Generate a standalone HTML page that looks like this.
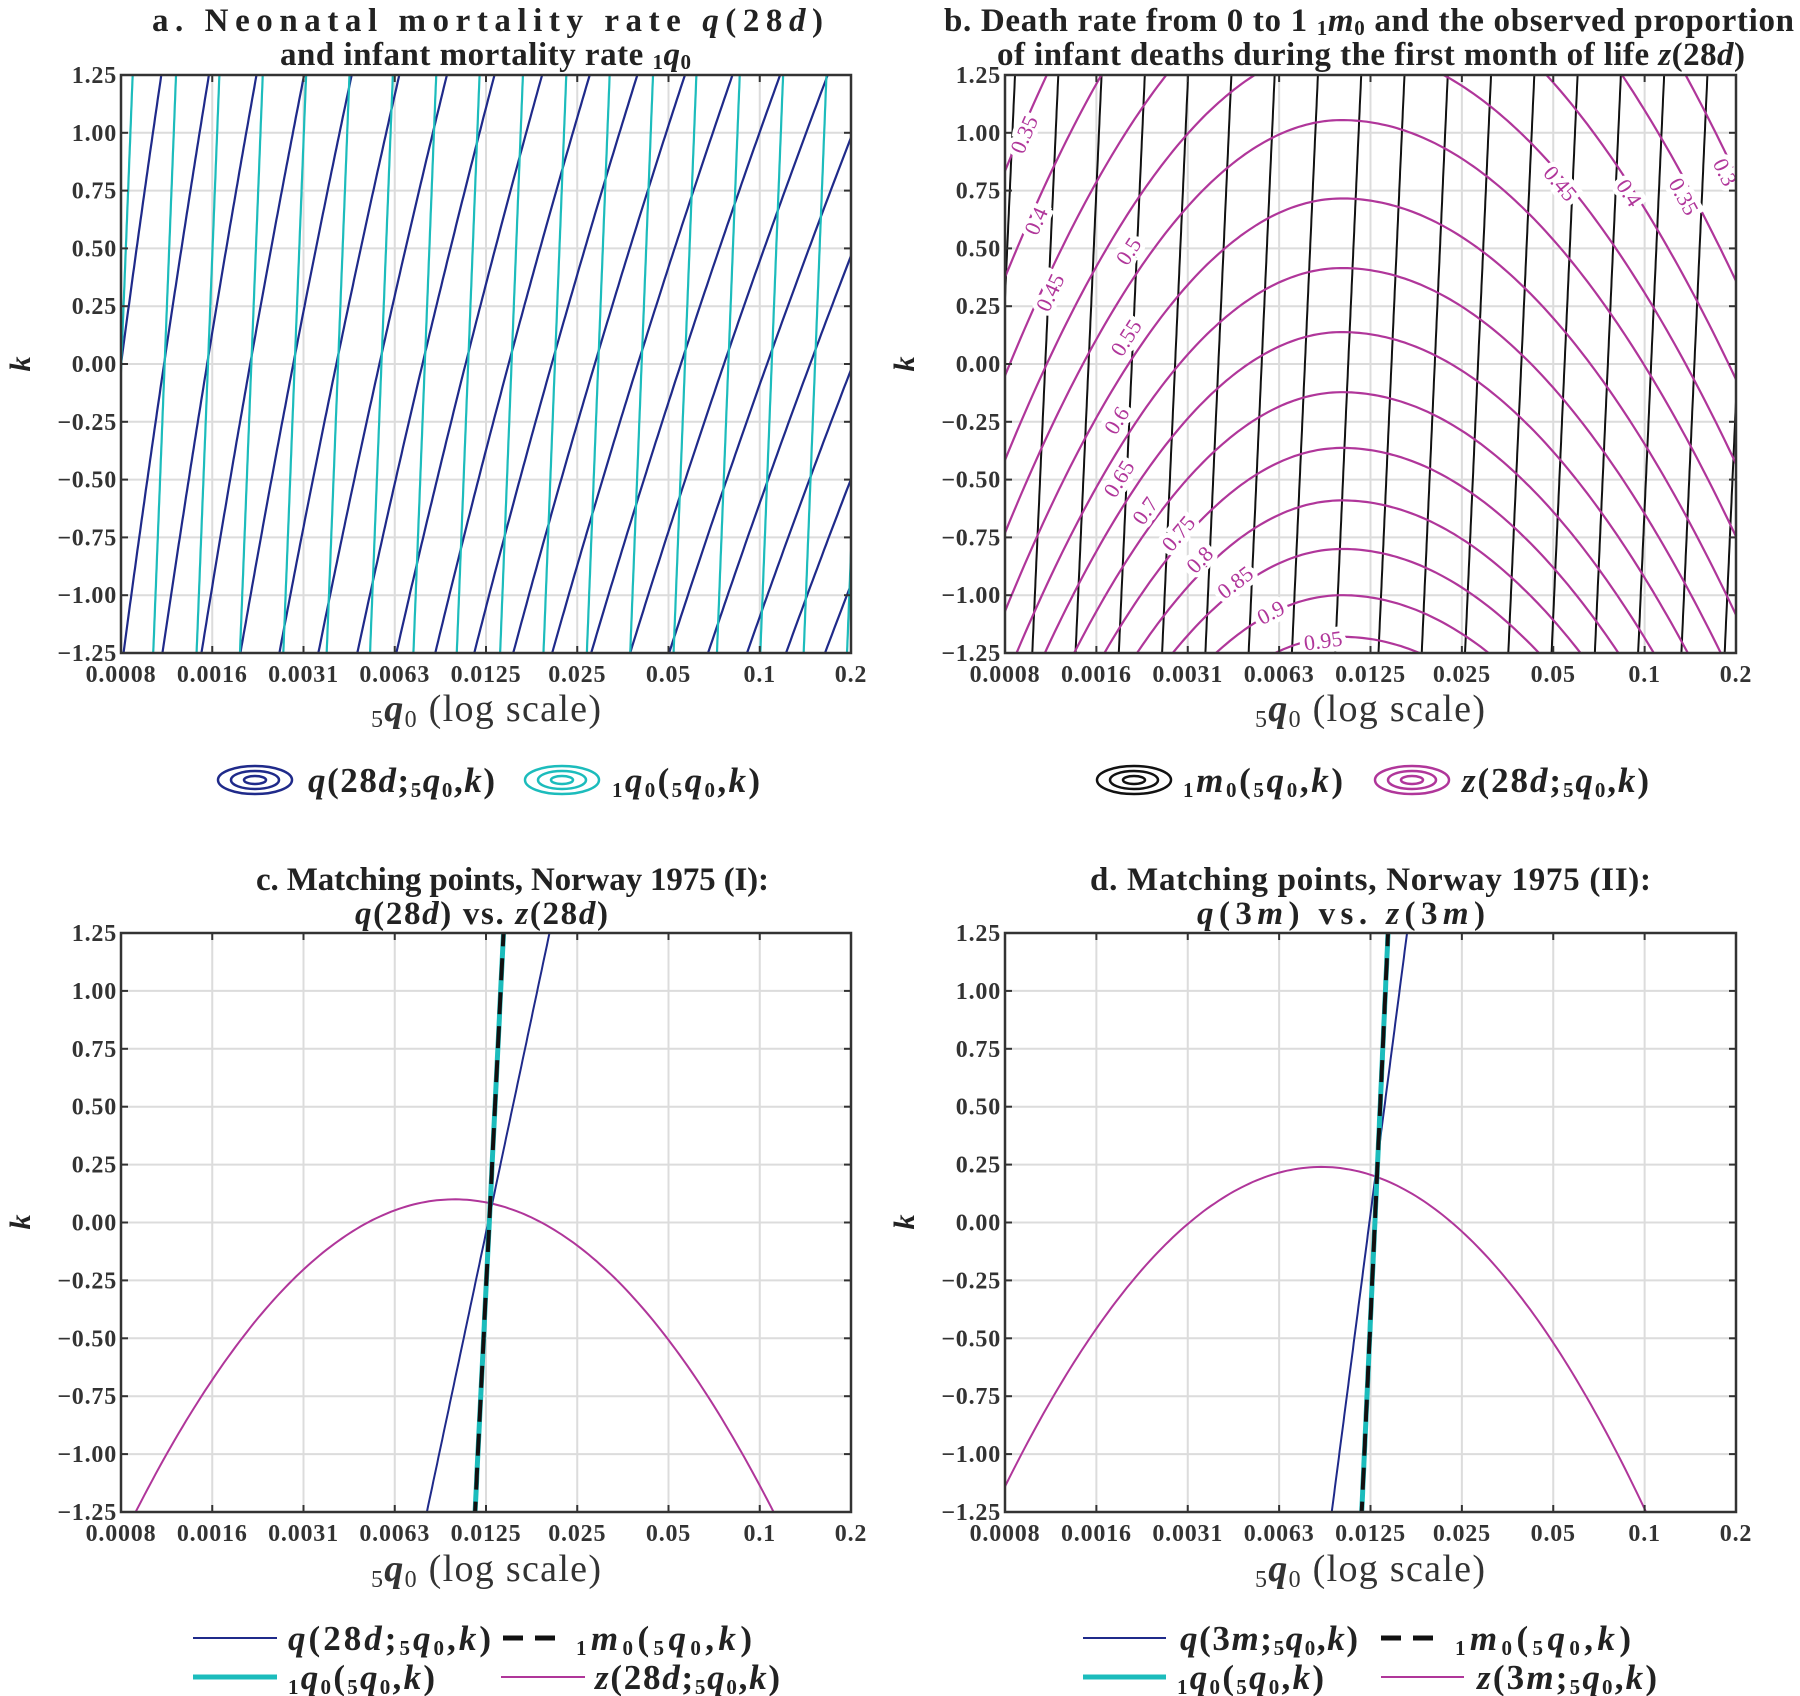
<!DOCTYPE html>
<html><head><meta charset="utf-8"><style>
html,body{margin:0;padding:0;background:#fff;}
svg{display:block;font-family:"Liberation Serif","DejaVu Serif",serif;}
</style></head><body>
<svg id="s" width="1800" height="1696" viewBox="0 0 1800 1696" xmlns="http://www.w3.org/2000/svg">
<defs>
<clipPath id="ca"><rect x="121" y="75" width="730" height="578"/></clipPath>
<clipPath id="cb"><rect x="1005" y="75" width="731" height="578"/></clipPath>
<clipPath id="cc"><rect x="121" y="933" width="730" height="579"/></clipPath>
<clipPath id="cd"><rect x="1005" y="933" width="731" height="579"/></clipPath>
</defs>
<g id="root"></g>
<g font-weight="bold" fill="#222" font-size="33">
<text x="152" y="31" textLength="671" lengthAdjust="spacing">a.  Neonatal mortality rate <tspan font-style="italic">q</tspan>(28<tspan font-style="italic">d</tspan>)</text>
<text x="280" y="65" textLength="411" lengthAdjust="spacing">and infant mortality rate <tspan font-size="21" dy="4">1</tspan><tspan font-style="italic" dy="-4">q</tspan><tspan font-size="21" dy="4">0</tspan></text>
<text x="944" y="31" textLength="850" lengthAdjust="spacing">b.  Death rate from 0 to 1 <tspan font-size="21" dy="4">1</tspan><tspan font-style="italic" dy="-4">m</tspan><tspan font-size="21" dy="4">0</tspan><tspan dy="-4"> and the observed proportion</tspan></text>
<text x="997" y="65" textLength="748" lengthAdjust="spacing">of infant deaths during the first month of life <tspan font-style="italic">z</tspan>(28<tspan font-style="italic">d</tspan>)</text>
<text x="256" y="890" textLength="513" lengthAdjust="spacing">c.  Matching points, Norway 1975 (I):</text>
<text x="355" y="924" textLength="253" lengthAdjust="spacing"><tspan font-style="italic">q</tspan>(28<tspan font-style="italic">d</tspan>) vs. <tspan font-style="italic">z</tspan>(28<tspan font-style="italic">d</tspan>)</text>
<text x="1090" y="890" textLength="561" lengthAdjust="spacing">d.  Matching points, Norway 1975 (II):</text>
<text x="1197" y="924" textLength="288" lengthAdjust="spacing"><tspan font-style="italic">q</tspan>(3<tspan font-style="italic">m</tspan>) vs. <tspan font-style="italic">z</tspan>(3<tspan font-style="italic">m</tspan>)</text>
</g>
<g font-weight="normal" fill="#333" font-size="38">
<text x="371" y="721" textLength="230" lengthAdjust="spacing"><tspan font-size="24" dy="6">5</tspan><tspan font-style="italic" font-weight="bold" dy="-6">q</tspan><tspan font-size="24" dy="6">0</tspan><tspan dy="-6">  (log scale)</tspan></text>
<text x="1255" y="721" textLength="230" lengthAdjust="spacing"><tspan font-size="24" dy="6">5</tspan><tspan font-style="italic" font-weight="bold" dy="-6">q</tspan><tspan font-size="24" dy="6">0</tspan><tspan dy="-6">  (log scale)</tspan></text>
<text x="371" y="1581" textLength="230" lengthAdjust="spacing"><tspan font-size="24" dy="6">5</tspan><tspan font-style="italic" font-weight="bold" dy="-6">q</tspan><tspan font-size="24" dy="6">0</tspan><tspan dy="-6">  (log scale)</tspan></text>
<text x="1255" y="1581" textLength="230" lengthAdjust="spacing"><tspan font-size="24" dy="6">5</tspan><tspan font-style="italic" font-weight="bold" dy="-6">q</tspan><tspan font-size="24" dy="6">0</tspan><tspan dy="-6">  (log scale)</tspan></text>
</g>
<g font-style="italic" font-weight="bold" font-size="30" fill="#222" text-anchor="middle">
<text transform="translate(30,364) rotate(-90)">k</text>
<text transform="translate(914,364) rotate(-90)">k</text>
<text transform="translate(30,1222) rotate(-90)">k</text>
<text transform="translate(914,1222) rotate(-90)">k</text>
</g>
<g fill="none" stroke-width="2.5">
<g stroke="#1f2a8a"><ellipse cx="255" cy="780" rx="37" ry="14"/><ellipse cx="255" cy="780" rx="24" ry="9"/><ellipse cx="255" cy="780" rx="11" ry="4"/></g>
<g stroke="#1cbcbc"><ellipse cx="562" cy="780" rx="37" ry="14"/><ellipse cx="562" cy="780" rx="24" ry="9"/><ellipse cx="562" cy="780" rx="11" ry="4"/></g>
<g stroke="#111"><ellipse cx="1134" cy="780" rx="37" ry="14"/><ellipse cx="1134" cy="780" rx="24" ry="9"/><ellipse cx="1134" cy="780" rx="11" ry="4"/></g>
<g stroke="#b0369a"><ellipse cx="1412" cy="780" rx="37" ry="14"/><ellipse cx="1412" cy="780" rx="24" ry="9"/><ellipse cx="1412" cy="780" rx="11" ry="4"/></g>
</g>
<g>
<line x1="193" y1="1638" x2="277" y2="1638" stroke="#1f2a8a" stroke-width="2"/>
<line x1="503" y1="1638" x2="564" y2="1638" stroke="#111" stroke-width="5" stroke-dasharray="20,12"/>
<line x1="193" y1="1677" x2="277" y2="1677" stroke="#1cbcbc" stroke-width="5"/>
<line x1="501" y1="1677" x2="585" y2="1677" stroke="#b0369a" stroke-width="2"/>
<line x1="1083" y1="1638" x2="1166" y2="1638" stroke="#1f2a8a" stroke-width="2"/>
<line x1="1381" y1="1638" x2="1441" y2="1638" stroke="#111" stroke-width="5" stroke-dasharray="20,12"/>
<line x1="1083" y1="1677" x2="1166" y2="1677" stroke="#1cbcbc" stroke-width="5"/>
<line x1="1381" y1="1677" x2="1464" y2="1677" stroke="#b0369a" stroke-width="2"/>
</g>
<g font-size="35" font-weight="bold" fill="#222">
<text x="308" y="792" textLength="187" lengthAdjust="spacing"><tspan font-style="italic">q</tspan>(28<tspan font-style="italic">d</tspan>;<tspan font-size="21" dy="5">5</tspan><tspan font-style="italic" dy="-5">q</tspan><tspan font-size="21" dy="5">0</tspan><tspan dy="-5">,</tspan><tspan font-style="italic">k</tspan>)</text>
<text x="612" y="792" textLength="148" lengthAdjust="spacing"><tspan font-size="21" dy="5">1</tspan><tspan font-style="italic" dy="-5">q</tspan><tspan font-size="21" dy="5">0</tspan><tspan dy="-5">(</tspan><tspan font-size="21" dy="5">5</tspan><tspan font-style="italic" dy="-5">q</tspan><tspan font-size="21" dy="5">0</tspan><tspan dy="-5">,</tspan><tspan font-style="italic">k</tspan>)</text>
<text x="1183" y="792" textLength="160" lengthAdjust="spacing"><tspan font-size="21" dy="5">1</tspan><tspan font-style="italic" dy="-5">m</tspan><tspan font-size="21" dy="5">0</tspan><tspan dy="-5">(</tspan><tspan font-size="21" dy="5">5</tspan><tspan font-style="italic" dy="-5">q</tspan><tspan font-size="21" dy="5">0</tspan><tspan dy="-5">,</tspan><tspan font-style="italic">k</tspan>)</text>
<text x="1462" y="792" textLength="187" lengthAdjust="spacing"><tspan font-style="italic">z</tspan>(28<tspan font-style="italic">d</tspan>;<tspan font-size="21" dy="5">5</tspan><tspan font-style="italic" dy="-5">q</tspan><tspan font-size="21" dy="5">0</tspan><tspan dy="-5">,</tspan><tspan font-style="italic">k</tspan>)</text>

<text x="288" y="1650" textLength="203" lengthAdjust="spacing"><tspan font-style="italic">q</tspan>(28<tspan font-style="italic">d</tspan>;<tspan font-size="21" dy="5">5</tspan><tspan font-style="italic" dy="-5">q</tspan><tspan font-size="21" dy="5">0</tspan><tspan dy="-5">,</tspan><tspan font-style="italic">k</tspan>)</text>
<text x="576" y="1650" textLength="176" lengthAdjust="spacing"><tspan font-size="21" dy="5">1</tspan><tspan font-style="italic" dy="-5">m</tspan><tspan font-size="21" dy="5">0</tspan><tspan dy="-5">(</tspan><tspan font-size="21" dy="5">5</tspan><tspan font-style="italic" dy="-5">q</tspan><tspan font-size="21" dy="5">0</tspan><tspan dy="-5">,</tspan><tspan font-style="italic">k</tspan>)</text>
<text x="288" y="1689" textLength="147" lengthAdjust="spacing"><tspan font-size="21" dy="5">1</tspan><tspan font-style="italic" dy="-5">q</tspan><tspan font-size="21" dy="5">0</tspan><tspan dy="-5">(</tspan><tspan font-size="21" dy="5">5</tspan><tspan font-style="italic" dy="-5">q</tspan><tspan font-size="21" dy="5">0</tspan><tspan dy="-5">,</tspan><tspan font-style="italic">k</tspan>)</text>
<text x="595" y="1689" textLength="185" lengthAdjust="spacing"><tspan font-style="italic">z</tspan>(28<tspan font-style="italic">d</tspan>;<tspan font-size="21" dy="5">5</tspan><tspan font-style="italic" dy="-5">q</tspan><tspan font-size="21" dy="5">0</tspan><tspan dy="-5">,</tspan><tspan font-style="italic">k</tspan>)</text>

<text x="1180" y="1650" textLength="178" lengthAdjust="spacing"><tspan font-style="italic">q</tspan>(3<tspan font-style="italic">m</tspan>;<tspan font-size="21" dy="5">5</tspan><tspan font-style="italic" dy="-5">q</tspan><tspan font-size="21" dy="5">0</tspan><tspan dy="-5">,</tspan><tspan font-style="italic">k</tspan>)</text>
<text x="1455" y="1650" textLength="176" lengthAdjust="spacing"><tspan font-size="21" dy="5">1</tspan><tspan font-style="italic" dy="-5">m</tspan><tspan font-size="21" dy="5">0</tspan><tspan dy="-5">(</tspan><tspan font-size="21" dy="5">5</tspan><tspan font-style="italic" dy="-5">q</tspan><tspan font-size="21" dy="5">0</tspan><tspan dy="-5">,</tspan><tspan font-style="italic">k</tspan>)</text>
<text x="1177" y="1689" textLength="147" lengthAdjust="spacing"><tspan font-size="21" dy="5">1</tspan><tspan font-style="italic" dy="-5">q</tspan><tspan font-size="21" dy="5">0</tspan><tspan dy="-5">(</tspan><tspan font-size="21" dy="5">5</tspan><tspan font-style="italic" dy="-5">q</tspan><tspan font-size="21" dy="5">0</tspan><tspan dy="-5">,</tspan><tspan font-style="italic">k</tspan>)</text>
<text x="1477" y="1689" textLength="180" lengthAdjust="spacing"><tspan font-style="italic">z</tspan>(3<tspan font-style="italic">m</tspan>;<tspan font-size="21" dy="5">5</tspan><tspan font-style="italic" dy="-5">q</tspan><tspan font-size="21" dy="5">0</tspan><tspan dy="-5">,</tspan><tspan font-style="italic">k</tspan>)</text>
</g>
</svg>
<script>
(function(){
var NS="http://www.w3.org/2000/svg";
var root=document.getElementById("root");
function el(tag,attrs,parent,text){var e=document.createElementNS(NS,tag);for(var a in attrs)e.setAttribute(a,attrs[a]);if(text!==undefined)e.textContent=text;(parent||root).appendChild(e);return e;}
var P={a:[121,75,851,653,"ca"],b:[1005,75,1736,653,"cb"],c:[121,933,851,1512,"cc"],d:[1005,933,1736,1512,"cd"]};
function X(p,fx){return p[0]+fx*(p[2]-p[0]);}
function Y(p,k){return p[1]+(1.25-k)/2.5*(p[3]-p[1]);}
var BLUE="#1f2a8a",CYAN="#1cbcbc",MAG="#b0369a",BLK="#111";
var xt=["0.0008","0.0016","0.0031","0.0063","0.0125","0.025","0.05","0.1","0.2"];
function base(p){
  var g=el("g",{});
  for(var i=0;i<9;i++){var x=X(p,i/8);el("line",{x1:x,y1:p[1],x2:x,y2:p[3],stroke:"#dcdcdc","stroke-width":2},g);}
  for(var j=0;j<11;j++){var k=1.25-j*0.25,y=Y(p,k);el("line",{x1:p[0],y1:y,x2:p[2],y2:y,stroke:"#dcdcdc","stroke-width":2},g);}
  return el("g",{"clip-path":"url(#"+p[4]+")"});
}
function frame(p){
  var g=el("g",{});
  for(var i=0;i<9;i++){var x=X(p,i/8);
    el("line",{x1:x,y1:p[3],x2:x,y2:p[3]-7,stroke:"#333","stroke-width":2},g);
    el("line",{x1:x,y1:p[1],x2:x,y2:p[1]+7,stroke:"#333","stroke-width":2},g);
    el("text",{x:x,y:p[3]+29,"font-size":24,"letter-spacing":0.8,"font-weight":"bold","text-anchor":"middle",fill:"#333"},g,xt[i]);}
  for(var j=0;j<11;j++){var k=1.25-j*0.25,y=Y(p,k);
    el("line",{x1:p[0],y1:y,x2:p[0]+7,y2:y,stroke:"#333","stroke-width":2},g);
    el("line",{x1:p[2],y1:y,x2:p[2]-7,y2:y,stroke:"#333","stroke-width":2},g);
    var s=k.toFixed(2); if(k<0) s="\u2212"+(-k).toFixed(2);
    el("text",{x:p[0]-4,y:y+8,"font-size":24,"letter-spacing":0.8,"font-weight":"bold","text-anchor":"end",fill:"#333"},g,s);}
  el("rect",{x:p[0],y:p[1],width:p[2]-p[0],height:p[3]-p[1],fill:"none",stroke:"#333","stroke-width":2.5},g);
}
function poly(p,g,fn,attrs){var pts=[];for(var i=0;i<=100;i++){var k=-1.3+2.6*i/100;pts.push(X(p,fn(k)).toFixed(1)+","+Y(p,k).toFixed(1));}
  attrs.points=pts.join(" ");attrs.fill="none";el("polyline",attrs,g);}
function curve(p,g,fn,attrs){var pts=[];for(var i=0;i<=200;i++){var fx=-0.02+1.04*i/200;pts.push(X(p,fx).toFixed(1)+","+Y(p,fn(fx)).toFixed(1));}
  attrs.points=pts.join(" ");attrs.fill="none";el("polyline",attrs,g);}
var p=P.a,g=base(p);
for(var n=-20;n<30;n++){(function(C){poly(p,g,function(k){return C*Math.exp(0.08*k)-0.525;},{stroke:BLUE,"stroke-width":2.2});})(0.525+n*0.059);}
for(var n=-1;n<19;n++){(function(c){poly(p,g,function(k){return c-0.0125*(1.25-k);},{stroke:CYAN,"stroke-width":2.2});})(0.016+n*0.0594);}
frame(p);
p=P.b;g=base(p);
for(var n=-1;n<19;n++){(function(t){poly(p,g,function(k){return t-0.0356*(1.25-k)/2.5;},{stroke:BLK,"stroke-width":2});})(0.0137+0.0592*n);}
var lev=[[0.3,2.62],[0.35,2.16],[0.4,1.735],[0.45,1.37],[0.5,1.055],[0.55,0.716],[0.6,0.415],[0.65,0.138],[0.7,-0.122],[0.75,-0.363],[0.8,-0.59],[0.85,-0.80],[0.9,-1.0],[0.95,-1.18]];
var AX=0.461;
function zf(ap){return function(fx){var d=fx-AX;return ap-(d<0?8.4:6.2)*d*d;};}
lev.forEach(function(l){curve(p,g,zf(l[1]),{stroke:MAG,"stroke-width":2.2});});
var lab=[["0.35",45,170],["0.4",70,400],["0.45",100,590],["0.5",265,480],["0.55",260,710],["0.6",240,930],["0.65",245,1085],["0.7",300,1170],["0.75",370,1230],["0.8",415,1300],["0.85",490,1360],["0.9",565,1440],["0.95",675,1515],
 ["0.45",1175,300],["0.4",1320,325],["0.35",1435,335],["0.3",1522,270]];
var lg=el("g",{"clip-path":"url(#cb)"});
lab.forEach(function(L){var fx=(L[1]-5)/1540,fy=(L[2]-12)/1536;var x=X(p,fx),y=p[1]+fy*(p[3]-p[1]);
  var d=fx-AX,a=(d<0?8.4:6.2);var dk=-2*a*d;var sx=(p[2]-p[0]),sy=(p[3]-p[1])/2.5;
  var ang=Math.atan2(-dk*sy,sx)*180/Math.PI;
  el("text",{x:x,y:y,"font-size":22,fill:MAG,"text-anchor":"middle","dominant-baseline":"central",stroke:"#fff","stroke-width":10,"paint-order":"stroke","transform":"rotate("+ang.toFixed(1)+" "+x.toFixed(1)+" "+y.toFixed(1)+")"},lg,L[0]);});
frame(p);
p=P.c;g=base(p);
curve(p,g,function(fx){var d=fx-0.457;return 0.1-7.07*d*d;},{stroke:MAG,"stroke-width":2});
poly(p,g,function(k){return 0.419+0.168*(k+1.25)/2.5;},{stroke:BLUE,"stroke-width":2});
poly(p,g,function(k){return 0.485+0.039*(k+1.25)/2.5;},{stroke:CYAN,"stroke-width":5});
poly(p,g,function(k){return 0.485+0.039*(k+1.25)/2.5;},{stroke:BLK,"stroke-width":4,"stroke-dasharray":"22,12"});
frame(p);
p=P.d;g=base(p);
curve(p,g,function(fx){var d=fx-0.433;return 0.24-(d<0?7.36:7.56)*d*d;},{stroke:MAG,"stroke-width":2});
poly(p,g,function(k){return 0.447+0.103*(k+1.25)/2.5;},{stroke:BLUE,"stroke-width":2});
poly(p,g,function(k){return 0.488+0.036*(k+1.25)/2.5;},{stroke:CYAN,"stroke-width":5});
poly(p,g,function(k){return 0.488+0.036*(k+1.25)/2.5;},{stroke:BLK,"stroke-width":4,"stroke-dasharray":"22,12"});
frame(p);
})();
</script>
</body></html>
